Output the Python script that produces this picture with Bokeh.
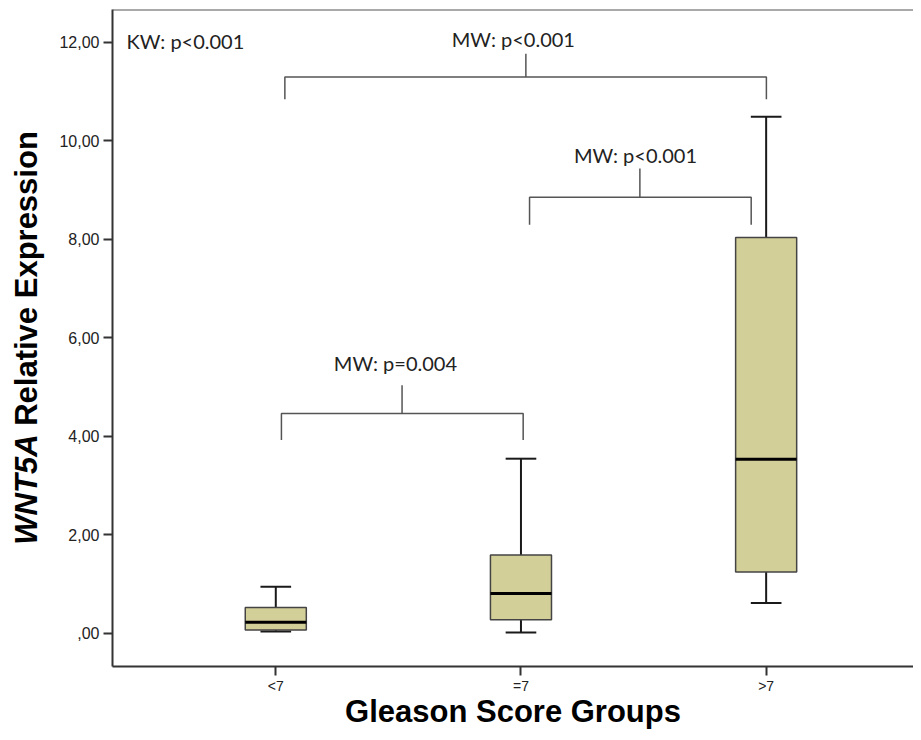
import math
from bokeh.plotting import figure
from bokeh.layouts import row
from bokeh.models import FixedTicker, Label, Span, ColumnDataSource, Range1d
from bokeh.core.properties import value
from bokeh.embed import file_html
from bokeh.resources import INLINE

# ---- data ----
groups = ["<7", "=7", ">7"]
q1 = [0.06, 0.27, 1.24]
median = [0.22, 0.805, 3.53]
q3 = [0.52, 1.585, 8.03]
whisker_low = [0.03, 0.01, 0.61]
whisker_high = [0.94, 3.54, 10.48]

y_ticks = [0, 2, 4, 6, 8, 10, 12]
y_tick_labels = [",00", "2,00", "4,00", "6,00", "8,00", "10,00", "12,00"]

# significance brackets: left x, right x, bar y, leg bottom y, stem x, stem top y
br_left = [1.037, 2.035, 1.023]
br_right = [3.001, 2.939, 2.009]
br_bar = [11.29, 8.85, 4.46]
br_leg = [10.84, 8.29, 3.92]
br_stem_x = [2.02, 2.485, 1.515]
br_stem_top = [11.76, 9.43, 5.03]

mw_text = ["MW: p<0.001", "MW: p<0.001", "MW: p=0.004"]
mw_x = [1.969, 2.467, 1.488]
mw_y = [12.07, 9.70, 5.49]
kw_text = ["KW: p<0.001"]
kw_x = [0.391]
kw_y = [12.03]

xpos = [i + 1 for i in range(len(groups))]

H = 732
LW = 50  # width of the strip holding the y-axis title
TOP, BOTTOM = 9, 66
yr = Range1d(-0.679, 12.66)

# ---- strip with the rotated y-axis title (mixed italic / bold) ----
lab = figure(width=LW, height=H, output_backend="svg", toolbar_location=None,
             x_range=(0, LW), y_range=yr,
             min_border_left=0, min_border_right=0, min_border_top=TOP, min_border_bottom=BOTTOM,
             x_axis_location=None, y_axis_location=None)
lab.outline_line_color = None
lab.xgrid.visible = False
lab.ygrid.visible = False
lab.add_layout(Label(x=26, y=1.794, text="WNT5A",
                     angle=math.pi / 2, text_font="Liberation Sans", text_font_size="31px",
                     text_font_style="bold italic", text_color="black",
                     text_align="left", text_baseline="middle"))
lab.add_layout(Label(x=26, y=4.208, text="Relative Expression",
                     angle=math.pi / 2, text_font="Liberation Sans", text_font_size="31px",
                     text_font_style="bold", text_color="black",
                     text_align="left", text_baseline="middle"))

# ---- main chart ----
p = figure(width=913 - LW, height=H, output_backend="svg", toolbar_location=None,
           x_range=(0.334, 3.601), y_range=yr,
           min_border_left=112 - LW, min_border_right=0, min_border_top=TOP,
           min_border_bottom=BOTTOM)
p.background_fill_color = "white"
p.border_fill_color = "white"
p.outline_line_color = None
p.xgrid.visible = False
p.ygrid.visible = False

# top frame line
p.add_layout(Span(location=12.66, dimension="width", line_color="#555555", line_width=2))

# axes
for ax in (p.xaxis[0], p.yaxis[0]):
    ax.axis_line_color = "#333333"
    ax.axis_line_width = 2
    ax.major_tick_line_color = "#333333"
    ax.major_tick_line_width = 2
    ax.major_tick_in = 0
    ax.minor_tick_line_color = None
    ax.major_label_text_font = "Liberation Sans"
    ax.major_label_text_color = "#222222"

p.yaxis.ticker = FixedTicker(ticks=y_ticks)
p.yaxis.major_label_overrides = {t: l for t, l in zip(y_ticks, y_tick_labels)}
p.yaxis.major_tick_out = 9
p.yaxis.major_label_text_font_size = "16px"
p.yaxis.major_label_standoff = 4

p.xaxis.ticker = FixedTicker(ticks=xpos)
p.xaxis.major_label_overrides = {x: g for x, g in zip(xpos, groups)}
p.xaxis.major_tick_out = 9
p.xaxis.major_label_text_font_size = "14px"
p.xaxis.major_label_standoff = 2
p.xaxis.axis_label = "Gleason Score Groups"
p.xaxis.axis_label_text_font = "Liberation Sans"
p.xaxis.axis_label_text_font_size = "31px"
p.xaxis.axis_label_text_font_style = "bold"
p.xaxis.axis_label_text_color = "black"
p.xaxis.axis_label_standoff = -3

# boxes
src = ColumnDataSource(dict(x=xpos, q1=q1, q3=q3, med=median, lo=whisker_low, hi=whisker_high,
                            cl=[x - 0.0625 for x in xpos], cr=[x + 0.0625 for x in xpos],
                            bl=[x - 0.1245 for x in xpos], bright=[x + 0.1245 for x in xpos]))
p.segment(x0="x", y0="q3", x1="x", y1="hi", source=src, line_color="#1a1a1a", line_width=2)
p.segment(x0="x", y0="q1", x1="x", y1="lo", source=src, line_color="#1a1a1a", line_width=2)
p.segment(x0="cl", y0="hi", x1="cr", y1="hi", source=src, line_color="#1a1a1a", line_width=2)
p.segment(x0="cl", y0="lo", x1="cr", y1="lo", source=src, line_color="#1a1a1a", line_width=2)
p.vbar(x="x", width=0.249, bottom="q1", top="q3", source=src,
       fill_color="#D3CF98", line_color="#444444", line_width=1.5)
p.segment(x0="bl", y0="med", x1="bright", y1="med", source=src, line_color="black", line_width=3)

# brackets
xs, ys = [], []
for xl, xr, yb, yl, sx, st in zip(br_left, br_right, br_bar, br_leg, br_stem_x, br_stem_top):
    xs.append([xl, xl, xr, xr]); ys.append([yl, yb, yb, yl])
    xs.append([sx, sx]); ys.append([yb, st])
p.multi_line(xs=xs, ys=ys, line_color="#555555", line_width=1.5)

# annotation texts
p.text(x=mw_x, y=mw_y, text=mw_text, text_font=value("Lato"), text_font_size="20px",
       text_color="#222222", text_align="center", text_baseline="alphabetic")
p.text(x=kw_x, y=kw_y, text=kw_text, text_font=value("Lato"), text_font_size="20px",
       text_color="#222222", text_align="left", text_baseline="alphabetic")

open("out.html", "w").write(file_html(row(lab, p), INLINE))
